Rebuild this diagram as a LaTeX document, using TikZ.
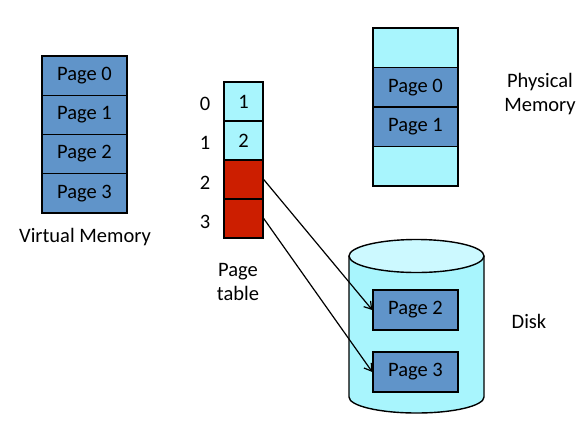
\documentclass[tikz,border=0pt]{standalone}
\usepackage{fontspec}
\setmainfont{Carlito}
\usetikzlibrary{arrows.meta}
\definecolor{pageblue}{HTML}{6094C9}
\definecolor{lightcyan}{HTML}{A8F5FD}
\definecolor{topcyan}{HTML}{CCF9FF}
\definecolor{ptred}{HTML}{CC1E00}
\tikzset{
  cell/.style={draw=black, line width=1.4pt, inner sep=0pt, minimum width=85pt, minimum height=39.3pt, font=\fontsize{20.5}{23}\selectfont},
  vpage/.style={cell, fill=pageblue},
  freecell/.style={cell, fill=lightcyan},
  ptcell/.style={cell, minimum width=39pt, minimum height=39pt},
  lbl/.style={inner sep=0pt, align=center, font=\fontsize{20.5}{23.5}\selectfont},
  link/.style={line width=1.2pt, -{Straight Barb[length=7pt,width=9pt,line width=1.2pt]}}
}
\begin{document}
\begin{tikzpicture}[x=1pt,y=-1pt]
\useasboundingbox (0,0) rectangle (587,424);
% Virtual memory
\node[vpage] (v0) at (84.5,75.6) {Page 0};
\node[vpage] (v1) at (84.5,114.9) {Page 1};
\node[vpage] (v2) at (84.5,154.1) {Page 2};
\node[vpage] (v3) at (84.5,193.4) {Page 3};
\node[lbl] (vlab) at (85,237) {Virtual Memory};
% Page table
\node[ptcell, fill=lightcyan] (p0) at (243.5,101.5) {1};
\node[ptcell, fill=lightcyan] (p1) at (243.5,140.5) {2};
\node[ptcell, fill=ptred] (p2) at (243.5,179.5) {};
\node[ptcell, fill=ptred] (p3) at (243.5,218.5) {};
\node[lbl] (i0) at (205,104) {0};
\node[lbl] (i1) at (205,143) {1};
\node[lbl] (i2) at (205,183) {2};
\node[lbl] (i3) at (205,222) {3};
\node[lbl] (ptlab) at (238,282) {Page\\table};
% Physical memory
\node[freecell, minimum height=39.5pt] (m0) at (415.5,47.75) {};
\node[vpage, minimum height=39.5pt] (m1) at (415.5,87.25) {Page 0};
\node[vpage, minimum height=39.5pt] (m2) at (415.5,126.75) {Page 1};
\node[freecell, minimum height=39.5pt] (m3) at (415.5,166.25) {};
\node[lbl] (pmlab) at (540,94) {Physical\\Memory};
% Disk
\draw[line width=1.4pt, fill=lightcyan] (349,256) -- (349,397) arc[start angle=180, end angle=0, x radius=67.5, y radius=16] -- (484,256);
\draw[line width=1.4pt, fill=topcyan] (416.5,256) ellipse[x radius=67.5, y radius=16.5];
\node[vpage, minimum height=40pt] (d2) at (415.5,310) {Page 2};
\node[vpage, minimum height=40pt] (d3) at (415.5,372) {Page 3};
\node[lbl] (disklab) at (529,321) {Disk};
% Links
\draw[link] (p2.east) -- (d2.west);
\draw[link] (p3.east) -- (d3.west);
\end{tikzpicture}
\end{document}
